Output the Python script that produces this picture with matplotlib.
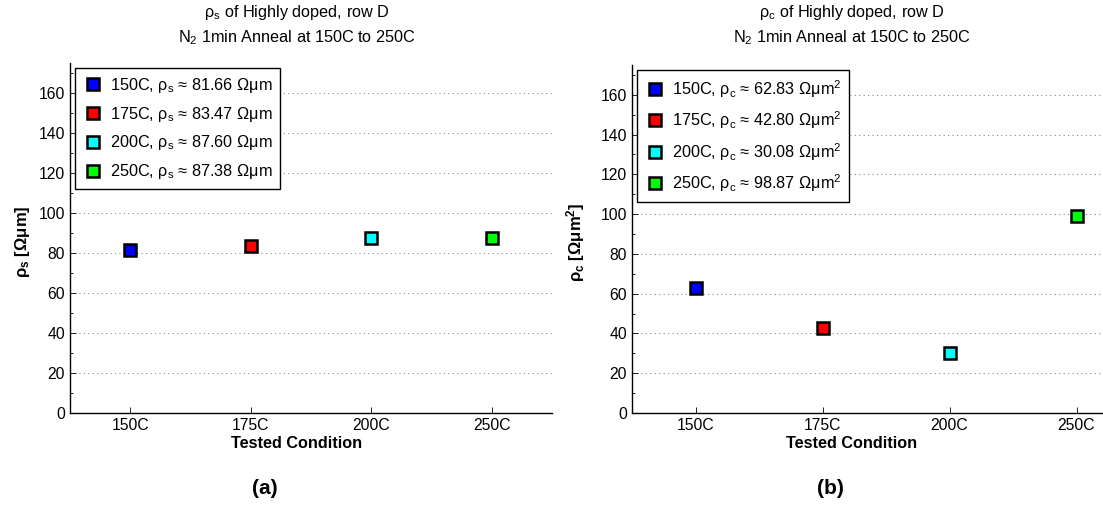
import matplotlib
matplotlib.use("Agg")
import matplotlib.pyplot as plt
from matplotlib.lines import Line2D
from matplotlib.ticker import MultipleLocator

plt.rcParams['font.family'] = ['Liberation Sans', 'DejaVu Sans']
plt.rcParams['mathtext.fontset'] = 'custom'
plt.rcParams['mathtext.rm'] = 'Liberation Sans'
plt.rcParams['mathtext.it'] = 'Liberation Sans:italic'
plt.rcParams['mathtext.bf'] = 'Liberation Sans:bold'

categories = ['150C', '175C', '200C', '250C']
colors = ['#0000ff', '#ff0000', '#00ffff', '#00ff00']
rho_s = [81.66, 83.47, 87.60, 87.38]
rho_c = [62.83, 42.80, 30.08, 98.87]

W, H = 1103, 507
fig = plt.figure(figsize=(W / 100, H / 100), dpi=100)

def px_axes(x0, x1, ytop, ybot):
    return fig.add_axes([x0 / W, (H - ybot) / H, (x1 - x0) / W, (ybot - ytop) / H])

axa = px_axes(70, 552, 63, 413)
axb = px_axes(632, 1140, 65, 413)

FS = 11.7

def style(ax, vals, sub, unit, ylabel):
    xs = range(1, len(categories) + 1)
    handles = []
    for x, v, c, cat in zip(xs, vals, colors, categories):
        ax.plot([x], [v], marker='s', ms=9, mew=1.8, mec='black', mfc=c,
                linestyle='none', zorder=5)
        handles.append(Line2D([], [], marker='s', ms=9, mew=1.8, mec='black',
                              mfc=c, linestyle='none',
                              label=f'{cat}, ρ$_{{\\rm {sub}}}$ ≈ {v:.2f} {unit}'))
    ax.set_xlim(0.5, 4.5)
    ax.set_ylim(0, 175)
    ax.set_xticks(list(xs))
    ax.set_xticklabels(categories)
    ax.yaxis.set_major_locator(MultipleLocator(20))
    ax.yaxis.set_minor_locator(MultipleLocator(10))
    ax.tick_params(axis='both', which='both', direction='in', labelsize=11.3,
                   colors='black')
    ax.tick_params(axis='both', which='major', length=4, width=0.6)
    ax.tick_params(axis='y', which='minor', length=2.5, width=0.6)
    ax.tick_params(axis='x', which='minor', length=0)
    ax.yaxis.grid(True, which='major', linestyle=(0, (1, 3)), color='#888888',
                  linewidth=0.8)
    ax.set_axisbelow(True)
    for s in ['top', 'right']:
        ax.spines[s].set_visible(False)
    for s in ['left', 'bottom']:
        ax.spines[s].set_linewidth(1.0)
    leg = ax.legend(handles=handles, loc='upper left', fontsize=FS,
                    frameon=True, fancybox=False, edgecolor='black',
                    framealpha=1, borderaxespad=0.3, labelspacing=0.6,
                    handletextpad=0.45, handlelength=1.2, borderpad=0.5)
    leg.get_frame().set_linewidth(1.0)
    leg.set_zorder(10)
    ax.set_ylabel(ylabel, fontsize=12, fontweight='bold')

style(axa, rho_s, 's', 'Ωμm', 'ρ$_{\\bf s}$ [Ωμm]')
style(axb, rho_c, 'c', 'Ωμm$^2$', 'ρ$_{\\bf c}$ [Ωμm$^{\\bf 2}$]')

axa.yaxis.set_label_coords(-38 / 482, 0.49)
axb.yaxis.set_label_coords(-45 / 508, 0.49)

for cx, sub, panel, pcx in [(297, 's', '(a)', 265), (852, 'c', '(b)', 830)]:
    fig.text(cx / W, 1 - 13 / H, f'ρ$_{{\\rm {sub}}}$ of Highly doped, row D',
             ha='center', va='center', fontsize=FS)
    fig.text(cx / W, 1 - 38 / H, 'N$_{\\rm 2}$ 1min Anneal at 150C to 250C',
             ha='center', va='center', fontsize=FS)
    fig.text(cx / W, 1 - 444 / H, 'Tested Condition', ha='center', va='center',
             fontsize=FS, fontweight='bold')
    fig.text(pcx / W, 1 - 488 / H, panel, ha='center', va='center',
             fontsize=15, fontweight='bold')

fig.savefig('out.png', dpi=100)
